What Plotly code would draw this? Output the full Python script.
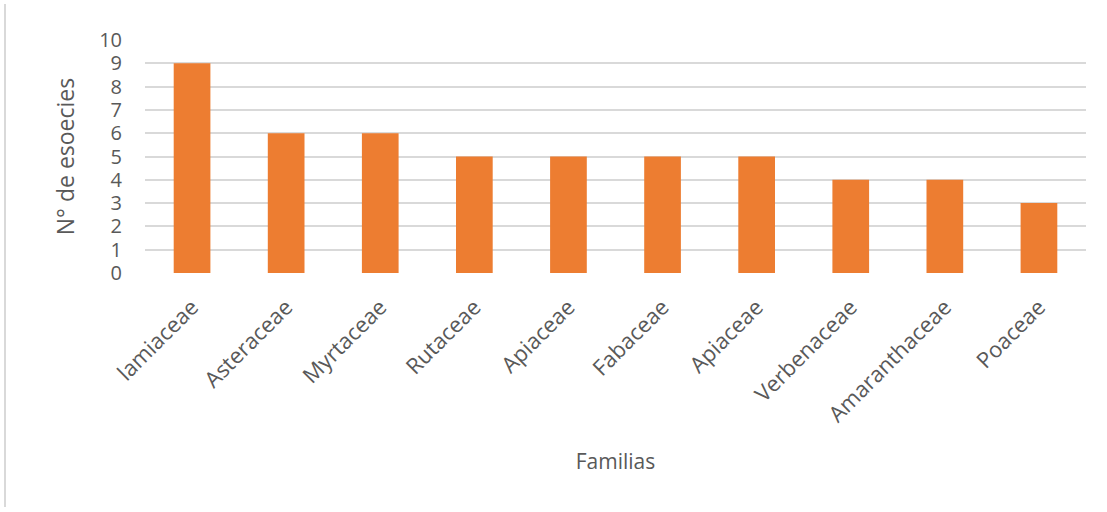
import plotly.graph_objects as go

familias = ["lamiaceae", "Asteraceae", "Myrtaceae", "Rutaceae", "Apiaceae",
            "Fabaceae", "Apiaceae", "Verbenaceae", "Amaranthaceae", "Poaceae"]
especies = [9, 6, 6, 5, 5, 5, 5, 4, 4, 3]
y_ticks = list(range(0, 11))

W, H = 1107, 512
ml, mr, mt, mb = 145, 21, 40, 239
pw = W - ml - mr
ph = H - mt - mb
y_bottom_px = H - mb

pos = list(range(len(familias)))

fig = go.Figure()
fig.add_trace(go.Bar(x=pos, y=especies, marker=dict(color="#ED7D31", line=dict(width=0)),
                     width=0.39))

font_family = "Open Sans, Liberation Sans, sans-serif"
fig.update_layout(
    width=W, height=H,
    margin=dict(l=ml, r=mr, t=mt, b=mb, autoexpand=False),
    plot_bgcolor="white", paper_bgcolor="white",
    showlegend=False,
    font=dict(family=font_family, color="#595959"),
    xaxis=dict(
        tickmode="array", tickvals=pos, ticktext=familias,
        range=[-0.5, len(familias) - 0.5],
        tickangle=-45, tickfont=dict(size=22, color="#595959"),
        showgrid=False, zeroline=False, showline=False, ticks="",
        ticklabelstandoff=16, automargin=False,
        title=dict(text="Familias", font=dict(size=21, color="#595959"), standoff=27),
    ),
    yaxis=dict(
        range=[0, 10], tickmode="array", tickvals=y_ticks,
        tickfont=dict(size=20, color="#595959"),
        showgrid=True, gridcolor="#D9D9D9", gridwidth=1.5,
        zeroline=False, showline=False, ticks="", ticklabelstandoff=22,
        automargin=False,
        title=dict(text="N° de esoecies", font=dict(size=23, color="#595959"), standoff=18),
    ),
)
# left border line of the chart frame
fig.add_shape(type="line", xref="paper", yref="paper",
              x0=(5 - ml) / pw, x1=(5 - ml) / pw,
              y0=(y_bottom_px - 507) / ph, y1=(y_bottom_px - 4) / ph,
              line=dict(color="#D9D9D9", width=2))

fig.write_html("out.html", config={"displayModeBar": False},
               post_script="document.body.style.margin='0';")
